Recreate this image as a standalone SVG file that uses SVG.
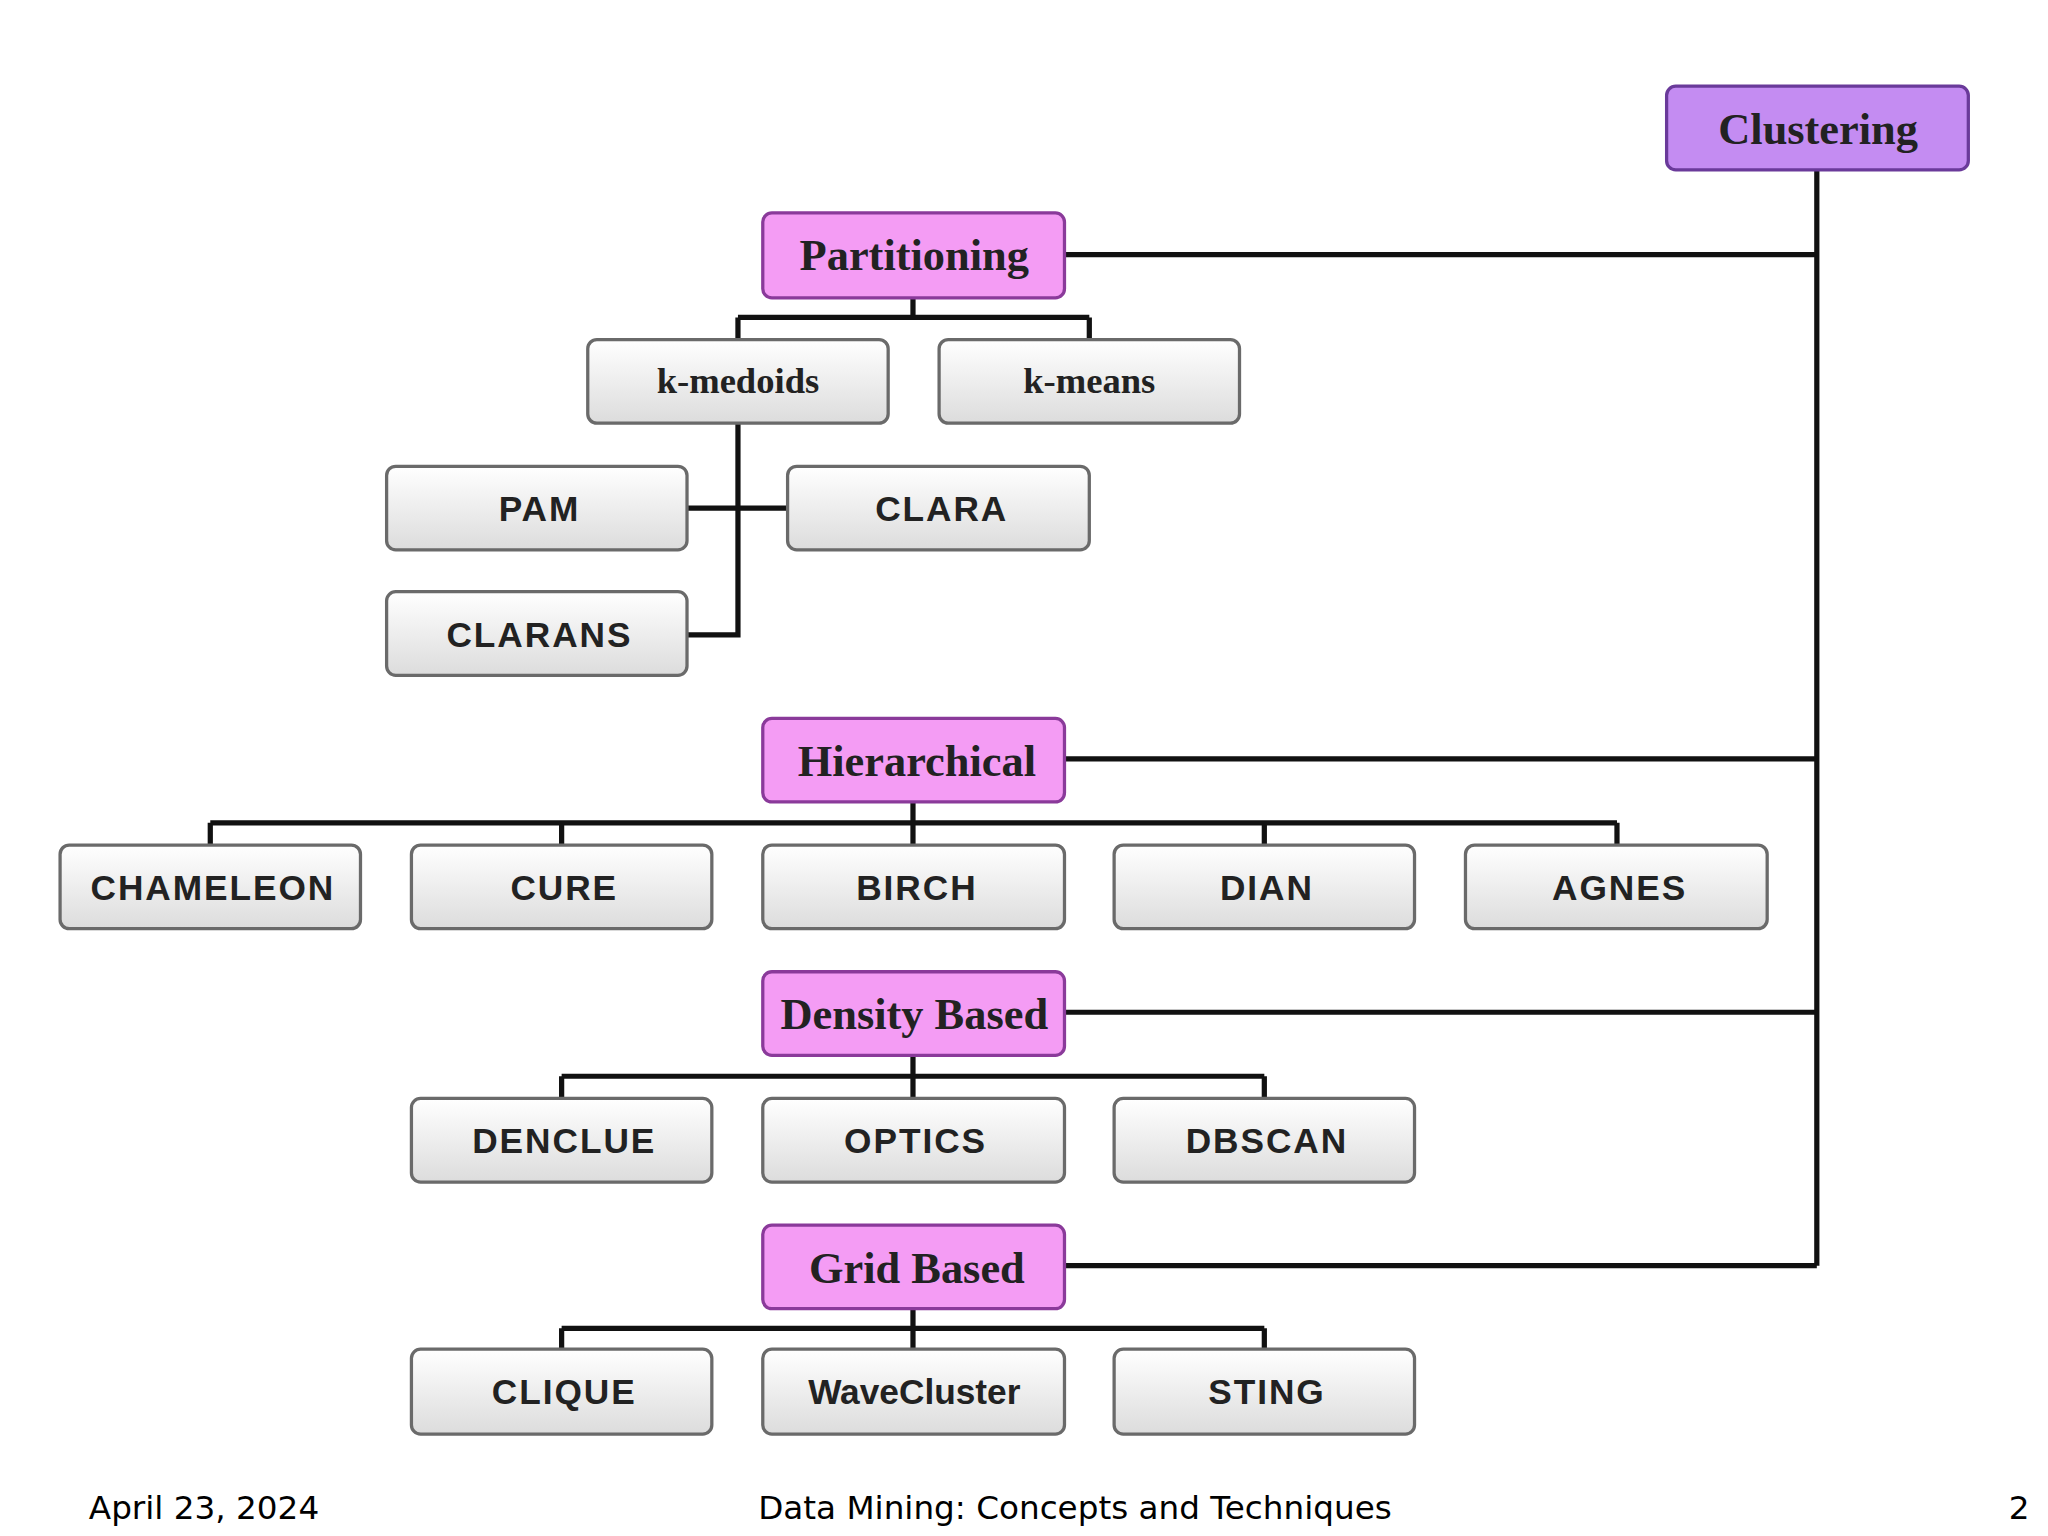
<svg xmlns="http://www.w3.org/2000/svg" width="2048" height="1536" viewBox="0 0 2048 1536">
<defs>
<linearGradient id="g" x1="0" y1="0" x2="0" y2="1"><stop offset="0" stop-color="#ffffff"/><stop offset="1" stop-color="#dcdcdc"/></linearGradient>
<style>
.box{fill:url(#g);stroke:#6a6a6a;stroke-width:2.5}
.cat{fill:#f49cf4;stroke:#8a3a9a;stroke-width:2.5}
.root{fill:#c48cf2;stroke:#6a3a9a;stroke-width:2.5}
.t{font-family:"Liberation Sans",Arial,sans-serif;font-weight:bold;font-size:27px;letter-spacing:1.5px;fill:#222;text-anchor:middle}
.s{font-family:"Liberation Serif","Times New Roman",serif;font-weight:bold;font-size:34px;fill:#222;text-anchor:middle}
.k{font-family:"Liberation Serif","Times New Roman",serif;font-weight:bold;font-size:28px;fill:#222;text-anchor:middle}
.f{font-family:"DejaVu Sans",Verdana,sans-serif;font-size:25px;fill:#000}
.c{fill:none;stroke:#111;stroke-width:4}
</style>
</defs>
<rect width="2048" height="1536" fill="#fff"/>
<g transform="scale(1.30612)">
<g id="connectors" class="c">
<path d="M1391 130V969M815 195H1391M815 581H1391M815 775H1391M815 969H1391"/>
<path d="M699 228V243M565 243H834M565 243V260M834 243V260"/>
<path d="M565 324V486H526M526 389H603"/>
<path d="M699 614V630M161 630H1238M161 630V647M430 630V647M699 630V647M968 630V647M1238 630V647"/>
<path d="M699 808V824M430 824H968M430 824V841M699 824V841M968 824V841"/>
<path d="M699 1002V1017M430 1017H968M430 1017V1033M699 1017V1033M968 1017V1033"/>
</g>
<g id="clustering"><rect class="root" x="1276" y="66" width="231" height="64" rx="7"/><text class="s" x="1392" y="110">Clustering</text></g>
<g id="partitioning"><rect class="cat" x="584" y="163" width="231" height="65" rx="7"/><text class="s" x="700" y="207">Partitioning</text></g>
<g id="kmedoids"><rect class="box" x="450" y="260" width="230" height="64" rx="7"/><text class="k" x="565" y="301">k-medoids</text></g>
<g id="kmeans"><rect class="box" x="719" y="260" width="230" height="64" rx="7"/><text class="k" x="834" y="301">k-means</text></g>
<g id="pam"><rect class="box" x="296" y="357" width="230" height="64" rx="7"/><text class="t" x="413" y="399">PAM</text></g>
<g id="clara"><rect class="box" x="603" y="357" width="231" height="64" rx="7"/><text class="t" x="721" y="399">CLARA</text></g>
<g id="clarans"><rect class="box" x="296" y="453" width="230" height="64" rx="7"/><text class="t" x="413" y="495">CLARANS</text></g>
<g id="hierarchical"><rect class="cat" x="584" y="550" width="231" height="64" rx="7"/><text class="s" x="702" y="594">Hierarchical</text></g>
<g id="chameleon"><rect class="box" x="46" y="647" width="230" height="64" rx="7"/><text class="t" x="163" y="689">CHAMELEON</text></g>
<g id="cure"><rect class="box" x="315" y="647" width="230" height="64" rx="7"/><text class="t" x="432" y="689">CURE</text></g>
<g id="birch"><rect class="box" x="584" y="647" width="231" height="64" rx="7"/><text class="t" x="702" y="689">BIRCH</text></g>
<g id="dian"><rect class="box" x="853" y="647" width="230" height="64" rx="7"/><text class="t" x="970" y="689">DIAN</text></g>
<g id="agnes"><rect class="box" x="1122" y="647" width="231" height="64" rx="7"/><text class="t" x="1240" y="689">AGNES</text></g>
<g id="density"><rect class="cat" x="584" y="744" width="231" height="64" rx="7"/><text class="s" x="700" y="788">Density Based</text></g>
<g id="denclue"><rect class="box" x="315" y="841" width="230" height="64" rx="7"/><text class="t" x="432" y="883">DENCLUE</text></g>
<g id="optics"><rect class="box" x="584" y="841" width="231" height="64" rx="7"/><text class="t" x="701" y="883">OPTICS</text></g>
<g id="dbscan"><rect class="box" x="853" y="841" width="230" height="64" rx="7"/><text class="t" x="970" y="883">DBSCAN</text></g>
<g id="grid"><rect class="cat" x="584" y="938" width="231" height="64" rx="7"/><text class="s" x="702" y="982">Grid Based</text></g>
<g id="clique"><rect class="box" x="315" y="1033" width="230" height="65" rx="7"/><text class="t" x="432" y="1075">CLIQUE</text></g>
<g id="wavecluster"><rect class="box" x="584" y="1033" width="231" height="65" rx="7"/><text class="t" x="700" y="1075" style="letter-spacing:0">WaveCluster</text></g>
<g id="sting"><rect class="box" x="853" y="1033" width="230" height="65" rx="7"/><text class="t" x="970" y="1075">STING</text></g>
<text class="f" x="68" y="1163">April 23, 2024</text>
<text class="f" x="823" y="1163" text-anchor="middle">Data Mining: Concepts and Techniques</text>
<text class="f" x="1538" y="1163">2</text>
</g>
</svg>
